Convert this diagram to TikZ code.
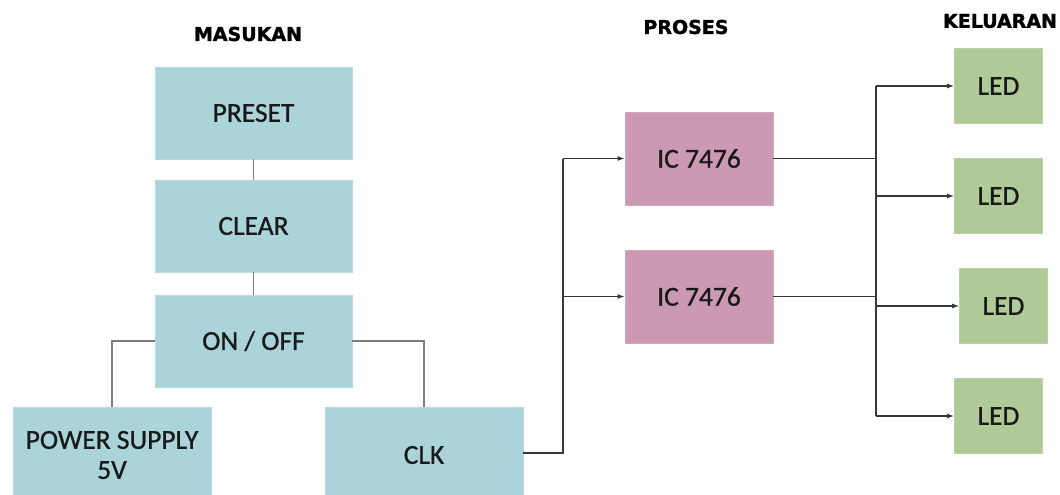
\documentclass[tikz,border=0pt]{standalone}
\usepackage{fontspec}
\setmainfont{Carlito}
\newfontfamily\boxfont{Carlito}[FakeBold=0.8]
\newfontfamily\titlefont{DejaVu Sans Bold}[FakeBold=1.6]
\usetikzlibrary{arrows.meta}
\definecolor{boxblue}{RGB}{170,211,218}
\definecolor{boxpink}{RGB}{204,153,180}
\definecolor{boxgreen}{RGB}{175,202,150}
\definecolor{linegray}{RGB}{125,125,125}
\definecolor{linedark}{RGB}{55,55,55}
\tikzset{
  base/.style={inner sep=0pt, align=center, font=\boxfont\fontsize{27.5}{30}\selectfont, text=black!90},
  inbox/.style={base, fill=boxblue, draw=boxblue!85!white, line width=0.8pt, minimum width=197pt, minimum height=92pt},
  icbox/.style={base, fill=boxpink, draw=boxpink!85!white, line width=0.8pt, minimum width=148pt, minimum height=93pt},
  ledbox/.style={base, fill=boxgreen, draw=boxgreen!85!white, line width=0.8pt, minimum width=88pt, minimum height=75pt},
  title/.style={font=\titlefont\fontsize{19}{21}\selectfont, inner sep=0pt},
  gline/.style={draw=linegray, line width=1.2pt},
  aline/.style={draw=linedark, line width=1.1pt},
  arr/.style={aline, -{Latex[length=7pt,width=5pt]}}
}
\begin{document}
\begin{tikzpicture}[x=1pt,y=-1pt]
\useasboundingbox (0,0) rectangle (1060,495);
\clip (0,0) rectangle (1060,495);
% titles
\node[title] (t1) at (248,34) {MASUKAN};
\node[title] (t2) at (686,27) {PROSES};
\node[title] (t3) at (1000,21) {KELUARAN};
% input boxes
\node[inbox] (preset) at (253.5,113) {PRESET};
\node[inbox] (clear) at (253.5,226) {CLEAR};
\node[inbox] (onoff) at (253.5,341) {ON / OFF};
\node[inbox, minimum width=198pt, minimum height=96pt] (power) at (112,455) {POWER SUPPLY\\5V};
\node[inbox, minimum width=198pt, minimum height=96pt] (clk) at (424,455) {CLK};
% process
\node[icbox] (ic1) at (699,158.5) {IC 7476};
\node[icbox] (ic2) at (699,296.5) {IC 7476};
% outputs
\node[ledbox] (led1) at (998.5,86) {LED};
\node[ledbox] (led2) at (998.5,196) {LED};
\node[ledbox] (led3) at (1003.5,306) {LED};
\node[ledbox] (led4) at (998.5,416) {LED};
% input connectors
\draw[gline] (preset.south) -- (clear.north);
\draw[gline] (clear.south) -- (onoff.north);
\draw[gline] (onoff.west) -| (power.north);
\draw[gline] (onoff.east) -| (clk.north);
% clk to ICs
\coordinate (j1) at (563,453);
\coordinate (j2) at (563,296.5);
\draw[aline] (clk.east |- j1) -- (j1) -- (j1 |- ic1.west);
\draw[arr] (j1 |- ic1.west) -- (ic1.west);
\draw[arr] (j2) -- (ic2.west);
% ICs to LEDs
\coordinate (b1) at (876,86);
\coordinate (b4) at (876,416);
\draw[aline] (ic1.east) -- (b1 |- ic1.east);
\draw[aline] (ic2.east) -- (b1 |- ic2.east);
\draw[aline] (b1) -- (b4);
\draw[arr] (b1) -- (led1.west);
\draw[arr] (b1 |- led2.west) -- (led2.west);
\draw[arr] (b1 |- led3.west) -- (led3.west);
\draw[arr] (b4) -- (led4.west);
\end{tikzpicture}
\end{document}
